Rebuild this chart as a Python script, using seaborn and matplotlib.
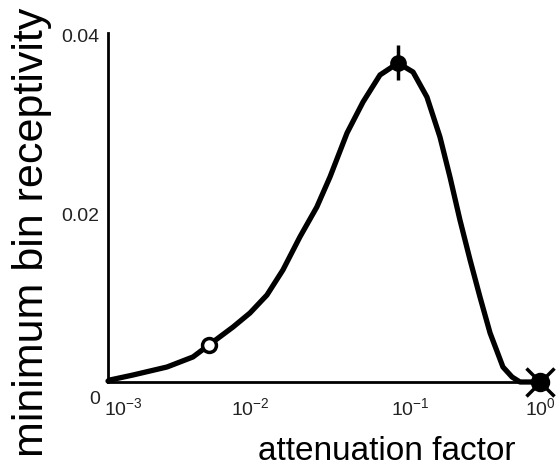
import numpy as np
import pandas as pd
import matplotlib
matplotlib.use("Agg")
import matplotlib.pyplot as plt
import matplotlib.transforms as mtransforms
import seaborn as sns

# curve
atten = [0.001, 0.00103, 0.00149, 0.00257, 0.00389, 0.00502, 0.00738,
         0.00968, 0.0127, 0.0164, 0.0215, 0.0282, 0.0348, 0.0457, 0.059,
         0.0774, 0.1033, 0.1313, 0.164, 0.202, 0.237, 0.278, 0.327, 0.383,
         0.45, 0.553, 0.64, 0.726, 1.0]
recept = [0.00011, 0.00023, 0.0008, 0.00172, 0.00287, 0.00424, 0.0063,
          0.00791, 0.00997, 0.01284, 0.01662, 0.02006, 0.0235, 0.02854,
          0.03209, 0.03519, 0.03656, 0.03553, 0.03266, 0.02808, 0.0235,
          0.01857, 0.01398, 0.00974, 0.00562, 0.00172, 0.00057, 0.0, 0.0]

# measured points
open_x, open_y = [0.005], [0.0042]
peak_x, peak_y, peak_err = [0.1033], [0.0366], [0.002]
end_x, end_y = [1.0], [0.0]

xticks = [0.001, 0.01, 0.1, 1.0]
xticklabels = ["$10^{-3}$", "$10^{-2}$", "$10^{-1}$", "$10^{0}$"]
yticks = [0, 0.02, 0.04]
yticklabels = ["0", "0.02", "0.04"]

sns.set_theme(style="white")
plt.rcParams["font.family"] = ["Liberation Sans", "DejaVu Sans"]
plt.rcParams["mathtext.fontset"] = "custom"
plt.rcParams["mathtext.rm"] = "Liberation Sans"
plt.rcParams["mathtext.it"] = "Liberation Sans"

fig = plt.figure(figsize=(5.56, 4.67), dpi=100)
ax = fig.add_axes([108 / 556, 85 / 467, 432 / 556, 349 / 467])

df = pd.DataFrame({"atten": atten, "recept": recept})
sns.lineplot(data=df, x="atten", y="recept", ax=ax, color="black",
             linewidth=3.8, clip_on=False, solid_joinstyle="round",
             solid_capstyle="round")

ax.errorbar(peak_x, peak_y, yerr=peak_err, fmt="o", color="black",
            markersize=11, elinewidth=2.5, capsize=0, zorder=5, clip_on=False)
ax.plot(open_x, open_y, "o", markersize=10, markerfacecolor="white",
        markeredgecolor="black", markeredgewidth=2.5, zorder=5)
ax.plot(end_x, end_y, "o", markersize=13, color="black", zorder=5,
        clip_on=False)
ax.plot(end_x, end_y, "x", markersize=20, markeredgewidth=2.5, color="black",
        zorder=5, clip_on=False)

ax.set_xscale("log")
ax.set_xlim(0.001, 1.0)
ax.set_ylim(0, 0.04)
ax.set_xticks(xticks)
ax.set_xticklabels(xticklabels, fontsize=14)
ax.set_yticks(yticks)
ax.set_yticklabels(yticklabels, fontsize=14)
ax.minorticks_off()
ax.tick_params(axis="both", direction="in", length=3, width=1.2,
               color="black", labelcolor="#222222")
ax.tick_params(axis="x", pad=11)
ax.tick_params(axis="y", pad=6)

# tick labels in the original sit a little off their ticks (pixel offsets)
x_shift = [15, -2, 14, 0]
for lab, dx in zip(ax.get_xticklabels(), x_shift):
    lab.set_transform(lab.get_transform() + mtransforms.ScaledTranslation(
        dx / 100, 0, fig.dpi_scale_trans))
y_shift = [-16, -7, -2]
for lab, dy in zip(ax.get_yticklabels(), y_shift):
    lab.set_transform(lab.get_transform() + mtransforms.ScaledTranslation(
        0, dy / 100, fig.dpi_scale_trans))

for side in ["top", "right"]:
    ax.spines[side].set_visible(False)
for side in ["left", "bottom"]:
    ax.spines[side].set_color("black")
    ax.spines[side].set_linewidth(2)

ax.set_xlabel("")
ax.set_ylabel("")
fig.text(387 / 556, 7 / 467, "attenuation factor", fontsize=24,
         ha="center", va="baseline", color="black")
fig.text(32 / 556, 1 - 232 / 467, "minimum bin receptivity", fontsize=31,
         rotation=90, ha="center", va="center", color="black")

fig.savefig("out.png", dpi=100)
